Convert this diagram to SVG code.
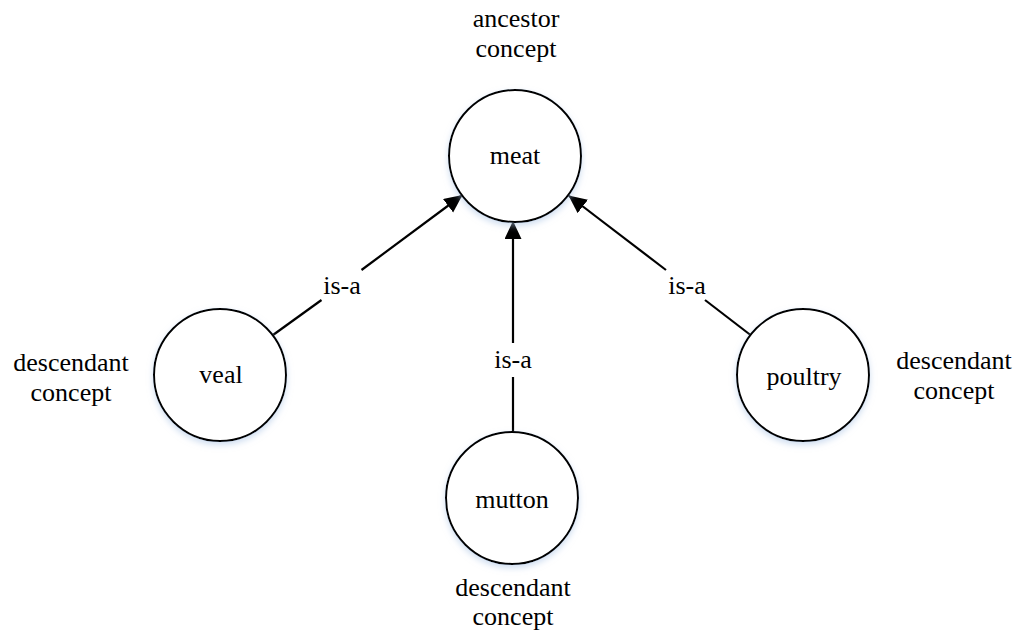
<svg xmlns="http://www.w3.org/2000/svg" width="1021" height="632" viewBox="0 0 1021 632" font-family="'Liberation Serif', 'Times New Roman', serif">
  <style>
    text { font-family: 'Liberation Serif', 'Times New Roman', serif; font-size: 26px; fill: #000; text-anchor: middle; }
    .node circle { fill: #fff; stroke: #000; stroke-width: 2; filter: url(#glow); }
    .edge { stroke: #000; stroke-width: 2.2; fill: none; }
  </style>
  <defs>
    <filter id="glow" x="-20%" y="-20%" width="140%" height="150%">
      <feDropShadow dx="0" dy="3" stdDeviation="3" flood-color="#a9c3e4" flood-opacity="0.55"/>
    </filter>
    <marker id="arrow" markerUnits="userSpaceOnUse" markerWidth="20" markerHeight="20" refX="18" refY="8.5" orient="auto">
      <path d="M0,0 L18,8.5 L0,17 Z" fill="#000"/>
    </marker>
  </defs>

  <!-- connectors: is-a relations from each descendant up to the ancestor -->
  <g id="connectors">
    <line class="edge" x1="273" y1="335" x2="321.5" y2="300"/>
    <line class="edge" x1="361.5" y1="270" x2="462.5" y2="195" marker-end="url(#arrow)"/>
    <text x="342" y="294" font-family="Liberation Serif, serif">is-a</text>

    <line class="edge" x1="513" y1="432" x2="513" y2="377"/>
    <line class="edge" x1="513" y1="343" x2="513" y2="221" marker-end="url(#arrow)"/>
    <text x="513" y="368" font-family="Liberation Serif, serif">is-a</text>

    <line class="edge" x1="750.5" y1="335" x2="705" y2="300"/>
    <line class="edge" x1="666" y1="270" x2="568.5" y2="195.5" marker-end="url(#arrow)"/>
    <text x="687" y="294" font-family="Liberation Serif, serif">is-a</text>
  </g>

  <g id="meat" class="node">
    <circle cx="515" cy="156" r="66"/>
    <text x="515" y="164">meat</text>
    <text x="516" y="27">ancestor</text>
    <text x="516" y="57">concept</text>
  </g>

  <g id="veal" class="node">
    <circle cx="220" cy="375" r="66"/>
    <text x="221" y="383">veal</text>
    <text x="71" y="371">descendant</text>
    <text x="71" y="401">concept</text>
  </g>

  <g id="mutton" class="node">
    <circle cx="512" cy="498" r="66"/>
    <text x="512" y="508">mutton</text>
    <text x="513" y="596">descendant</text>
    <text x="513" y="625">concept</text>
  </g>

  <g id="poultry" class="node">
    <circle cx="803" cy="375" r="66"/>
    <text x="804" y="385">poultry</text>
    <text x="954" y="369">descendant</text>
    <text x="954" y="399">concept</text>
  </g>
</svg>
